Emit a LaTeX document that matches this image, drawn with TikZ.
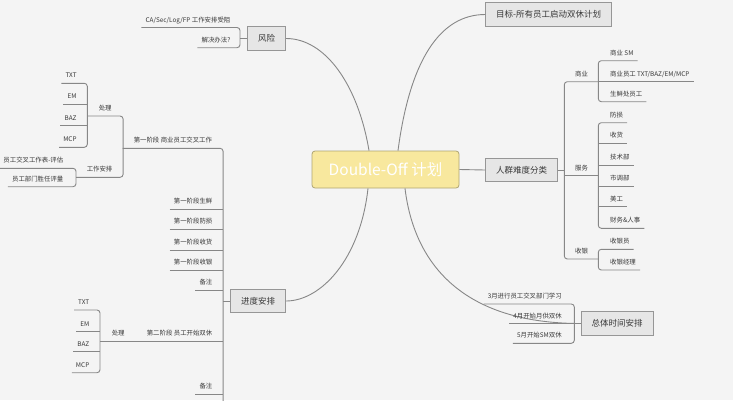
\documentclass[tikz,border=0pt]{standalone}
\usepackage{fontspec}
\setmainfont{Noto Sans CJK SC}
\definecolor{bgc}{RGB}{244,244,244}
\definecolor{lnc}{RGB}{135,135,135}
\definecolor{txt}{RGB}{55,55,55}
\definecolor{boxf}{RGB}{230,230,230}
\definecolor{boxd}{RGB}{150,150,150}
\definecolor{ctrf}{RGB}{248,232,158}
\definecolor{ctrd}{RGB}{175,165,115}
\begin{document}
\begin{tikzpicture}[x=1pt,y=-1pt,
  ln/.style={draw=lnc, line width=0.9pt},
  rc/.style={rounded corners=3pt},
  ts/.style={font=\fontsize{6.4}{7.2}\selectfont, text=txt, inner ysep=4.2pt, text height=5pt, text depth=1pt, inner xsep=4pt},
  lleaf/.style={ts, anchor=south east, execute at end node={\hspace*{#1}}},
  lleaf/.default=6.2pt,
  rleaf/.style={ts, anchor=south west, execute at begin node={\hspace*{#1}}},
  rleaf/.default=7.7pt,
  par/.style={ts, anchor=south west, minimum width=#1, inner xsep=0pt},
  box/.style={draw=boxd, fill=boxf, line width=0.8pt, font=\fontsize{8.5}{10}\selectfont, text=txt, inner sep=0pt},
]
\clip (0,0) rectangle (733,400);
\fill[bgc] (0,0) rectangle (733,400);

% main boxes
\node[draw=ctrd, fill=ctrf, line width=0.8pt, rounded corners=3pt, minimum width=147pt, minimum height=37pt, inner sep=0pt, text=white, font=\fontsize{15.5}{18}\selectfont] (ctr) at (385.5,169.5) {Double-Off 计划};
\node[box, minimum width=38.5pt, minimum height=23.3pt] (risk) at (266.5,38.5) {风险};
\node[box, minimum width=126pt, minimum height=23.3pt] (goal) at (548.7,14.5) {目标-所有员工启动双休计划};
\node[box, minimum width=71.6pt, minimum height=23.4pt] (crowd) at (521.5,170) {人群难度分类};
\node[box, minimum width=72.3pt, minimum height=23.4pt] (time) at (617.2,323.5) {总体时间安排};
\node[box, minimum width=55pt, minimum height=23.4pt] (prog) at (258.2,301) {进度安排};

% curves from centre
\draw[ln] ([xshift=-16.5pt]ctr.north) .. controls +(-11,-66) and +(39,0) .. (risk.east);
\draw[ln] ([xshift=12.5pt]ctr.north) .. controls +(12,-91) and +(-45,0) .. (goal.west);
\draw[ln] ([xshift=-17.5pt]ctr.south) .. controls +(-8,72) and +(34,0) .. (prog.east);
\draw[ln] ([xshift=19.5pt]ctr.south) .. controls +(10,82) and +(-111,0) .. (time.west);
\draw[ln] (ctr.east) -- (crowd.west);

% risk subtree
\node[lleaf=5.5pt] (ca) at (240,27.5) {CA/Sec/Log/FP 工作安排受阻};
\node[lleaf=5.5pt] (fix) at (240,47.7) {解决办法?};
\draw[ln,rc] (ca.south west) -- (ca.south east) -- (fix.south east) -- (fix.south west);
\draw[ln] (risk.west) -- (risk.west -| ca.south east);

% progress subtree
\node[par=100pt] (p1) at (122.7,148.3) {第一阶段 商业员工交叉工作};
\node[par=35.4pt] (h1) at (87.3,116) {处理};
\node[lleaf=6.5pt] (t1) at (87.3,83.3) {TXT};
\node[lleaf=6.5pt] (e1) at (87.3,104.3) {EM};
\node[lleaf=6.5pt] (b1) at (87.3,125.7) {BAZ};
\node[lleaf=6.5pt] (m1) at (87.3,147.3) {MCP};
\node[par=46.7pt] (ws) at (76,177.3) {工作安排};
\node[lleaf=8.5pt] (w1) at (76,168.3) {员工交叉工作表-评估};
\node[lleaf=8.5pt] (w2) at (76,186.7) {员工部门胜任评量};
\node[lleaf] (s1) at (222.7,209.3) {第一阶段生鲜};
\node[lleaf] (s2) at (222.7,229.3) {第一阶段防损};
\node[lleaf] (s3) at (222.7,250) {第一阶段收货};
\node[lleaf] (s4) at (222.7,270) {第一阶段收银};
\node[lleaf] (n1) at (222.7,290) {备注};
\node[par=86.7pt] (p2) at (136,341) {第二阶段 员工开始双休};
\node[par=36pt] (h2) at (100,341) {处理};
\node[lleaf=6.5pt] (t2) at (100,310) {TXT};
\node[lleaf=6.5pt] (e2) at (100,331.7) {EM};
\node[lleaf=6.5pt] (b2) at (100,351.7) {BAZ};
\node[lleaf=6.5pt] (m2) at (100,372.7) {MCP};
\node[lleaf] (n2) at (222.7,394) {备注};

\draw[ln,rc] (p1.south west) -- (p1.south east) -- ++(0,270);
\draw[ln] (prog.west) -- (prog.west -| p1.south east);
\foreach \n in {s1,s2,s3,s4,n1,p2,n2} \draw[ln] (\n.south west) -- (\n.south east);
\draw[ln] (h2.south west) -- (h2.south east);
\draw[ln,rc] (h1.south west) -- (h1.south east) -- (ws.south east) -- (ws.south west);
\draw[ln,rc] (t1.south west) -- (t1.south east) -- (m1.south east) -- (m1.south west);
\draw[ln] (e1.south west) -- (e1.south east);
\draw[ln] (b1.south west) -- (b1.south east);
\draw[ln,rc] (w1.south west) -- (w1.south east) -- (w2.south east) -- (w2.south west);
\draw[ln,rc] (t2.south west) -- (t2.south east) -- (m2.south east) -- (m2.south west);
\draw[ln] (e2.south west) -- (e2.south east);
\draw[ln] (b2.south west) -- (b2.south east);

% crowd subtree
\node[par=34pt] (biz) at (564.3,81.7) {商业};
\node[rleaf] (r1) at (598.3,60.7) {商业 SM};
\node[rleaf] (r2) at (598.3,81.7) {商业员工 TXT/BAZ/EM/MCP};
\node[rleaf] (r3) at (598.3,101.7) {生鲜处员工};
\node[par=34pt] (svc) at (564.3,175.7) {服务};
\node[rleaf] (v1) at (598.3,122.7) {防损};
\node[rleaf] (v2) at (598.3,143.3) {收货};
\node[rleaf] (v3) at (598.3,165) {技术部};
\node[rleaf] (v4) at (598.3,186) {市调部};
\node[rleaf] (v5) at (598.3,206.7) {美工};
\node[rleaf] (v6) at (598.3,228.3) {财务\&人事};
\node[par=34pt] (cash) at (564.3,259) {收银};
\node[rleaf] (c1) at (598.3,249.3) {收银员};
\node[rleaf] (c2) at (598.3,270) {收银经理};

\draw[ln,rc] (biz.south east) -- (biz.south west) -- (cash.south west) -- (cash.south east);
\draw[ln] (svc.south west) -- (svc.south east);
\draw[ln] (crowd.east) -- (crowd.east -| biz.south west);
\draw[ln,rc] (r1.south east) -- (r1.south west) -- (r3.south west) -- (r3.south east);
\draw[ln] (r2.south west) -- (r2.south east);
\draw[ln,rc] (v1.south east) -- (v1.south west) -- (v6.south west) -- (v6.south east);
\foreach \n in {v2,v3,v4,v5} \draw[ln] (\n.south west) -- (\n.south east);
\draw[ln,rc] (c1.south east) -- (c1.south west) -- (c2.south west) -- (c2.south east);

% time subtree
\node[lleaf=8.4pt] (m3) at (574.3,304) {3月进行员工交叉部门学习};
\node[lleaf=8.4pt] (m4) at (574.3,323.5) {4月开始月供双休};
\node[lleaf=8.4pt] (m5) at (574.3,343.3) {5月开始SM双休};
\draw[ln,rc] (m3.south west) -- (m3.south east) -- (m5.south east) -- (m5.south west);
\draw[ln] (m4.south west) -- (m4.south east);
\draw[ln] (time.west) -- (time.west -| m4.south east);
\end{tikzpicture}
\end{document}
